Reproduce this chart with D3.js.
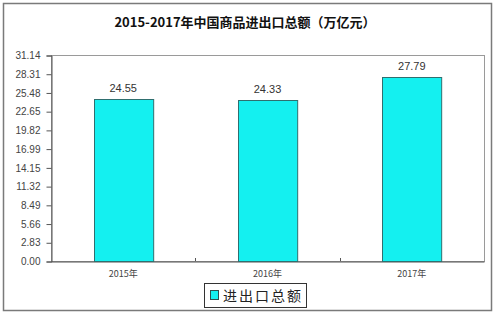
<!DOCTYPE html>
<html>
<head>
<meta charset="utf-8">
<script src="https://cdn.jsdelivr.net/npm/d3@7"></script>
<style>
  body { margin: 0; background: #fff; }
  svg { display: block; font-family: "Liberation Sans", Arial, sans-serif; }
</style>
</head>
<body>
<svg id="chart" width="499" height="317"></svg>
<script>
// chart data
var years = ["2015年", "2016年", "2017年"];
var totals = [24.55, 24.33, 27.79];
var tickLabels = ["0.00", "2.83", "5.66", "8.49", "11.32", "14.15", "16.99", "19.82", "22.65", "25.48", "28.31", "31.14"];
var seriesName = "进出口总额";
var titleText = "2015-2017年中国商品进出口总额（万亿元）";

var svg = d3.select("#chart");

// outer frame
svg.append("rect")
  .attr("x", 3.5).attr("y", 3.5)
  .attr("width", 488).attr("height", 307)
  .attr("fill", "#fff")
  .attr("stroke", "#7a7a7a")
  .attr("stroke-width", 1.5);

var plot = { left: 51, top: 55, right: 484, bottom: 261 };

var yMax = +tickLabels[tickLabels.length - 1];
var y = d3.scaleLinear().domain([0, yMax]).range([plot.bottom, plot.top]);
var x = d3.scaleBand().domain(years).range([plot.left, plot.right]).paddingInner(0.59).paddingOuter(0.295);
var xCat = d3.scaleBand().domain(years).range([plot.left, plot.right]);

// title
svg.append("text")
  .attr("x", 245).attr("y", 27)
  .attr("text-anchor", "middle")
  .attr("font-size", 13)
  .attr("font-weight", "bold")
  .attr("font-family", "'Noto Sans CJK SC', 'Liberation Sans', sans-serif")
  .attr("fill", "#111")
  .text(titleText);

// plot frame (top / right)
svg.append("rect")
  .attr("x", plot.left + 0.5).attr("y", plot.top + 0.5)
  .attr("width", plot.right - plot.left).attr("height", plot.bottom - plot.top)
  .attr("fill", "none")
  .attr("stroke", "#9a9a9a");

// y axis
var yAxis = d3.axisLeft(y)
  .tickValues(tickLabels.map(Number))
  .tickFormat(function(d, i) { return tickLabels[i]; })
  .tickSize(5)
  .tickPadding(6);
var gy = svg.append("g")
  .attr("transform", "translate(" + (plot.left + 0.5) + ",0.5)")
  .call(yAxis);
gy.select(".domain").attr("stroke", "#555");
gy.selectAll(".tick line").attr("stroke", "#555");
gy.selectAll(".tick text").attr("font-size", 10).attr("fill", "#444");

// x axis
var gx = svg.append("g")
  .attr("transform", "translate(0," + (plot.bottom + 0.5) + ")")
  .call(d3.axisBottom(xCat).tickSize(0).tickPadding(9));
gx.select(".domain").attr("stroke", "#555");
gx.selectAll(".tick text")
  .attr("font-size", 9)
  .attr("fill", "#444")
  .attr("font-family", "'Noto Sans CJK SC', sans-serif");

// category separator ticks
svg.append("g").selectAll("line")
  .data(years.slice(1))
  .enter().append("line")
  .attr("x1", function(d) { return Math.round(xCat(d)) + 0.5; })
  .attr("x2", function(d) { return Math.round(xCat(d)) + 0.5; })
  .attr("y1", plot.bottom - 3)
  .attr("y2", plot.bottom)
  .attr("stroke", "#555");

// bars
svg.append("g").selectAll("rect")
  .data(totals)
  .enter().append("rect")
  .attr("x", function(d, i) { return Math.round(x(years[i])) + 0.5; })
  .attr("y", function(d) { return Math.round(y(d)) + 0.5; })
  .attr("width", x.bandwidth())
  .attr("height", function(d) { return plot.bottom - Math.round(y(d)); })
  .attr("fill", "#14f0f0")
  .attr("stroke", "#2f6f6f")
  .attr("stroke-width", 1);

// value labels
svg.append("g").selectAll("text")
  .data(totals)
  .enter().append("text")
  .attr("x", function(d, i) { return x(years[i]) + x.bandwidth() / 2; })
  .attr("y", function(d) { return y(d) - 7; })
  .attr("text-anchor", "middle")
  .attr("font-size", 11)
  .attr("fill", "#333")
  .text(function(d) { return d.toFixed(2); });

// legend
var lg = svg.append("g").attr("transform", "translate(204,283)");
lg.append("rect")
  .attr("x", 0.5).attr("y", 0.5)
  .attr("width", 102).attr("height", 24)
  .attr("fill", "#fff")
  .attr("stroke", "#333");
lg.append("rect")
  .attr("x", 6.5).attr("y", 7.5)
  .attr("width", 8).attr("height", 9)
  .attr("fill", "#14f0f0")
  .attr("stroke", "#2f4f4f");
lg.append("text")
  .attr("x", 19).attr("y", 17.5)
  .attr("font-size", 14)
  .attr("letter-spacing", 2)
  .attr("font-family", "'Noto Sans CJK SC', sans-serif")
  .attr("fill", "#222")
  .text(seriesName);
</script>
</body>
</html>
